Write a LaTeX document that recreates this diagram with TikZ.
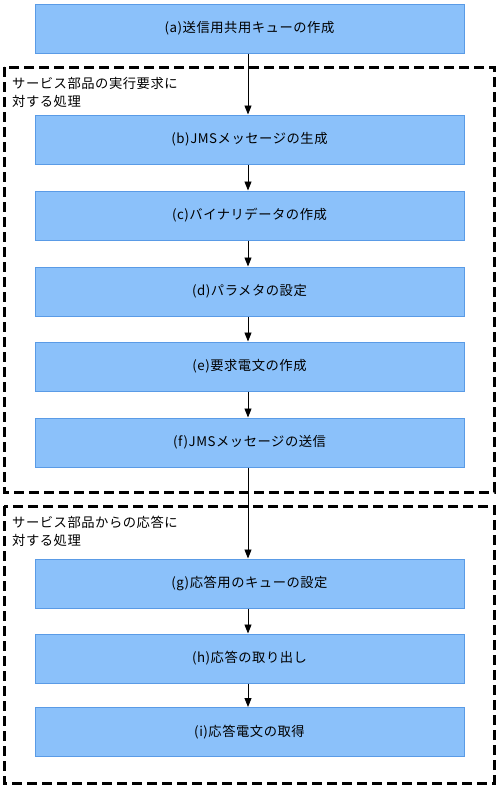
\documentclass[tikz,border=0pt]{standalone}
\usepackage{fontspec}
\setmainfont{Noto Sans CJK JP}[LetterSpace=4]
\usetikzlibrary{arrows.meta}
\begin{document}
\begin{tikzpicture}[x=1pt,y=-1pt,
  stepbox/.style={draw={rgb,255:red,90;green,155;blue,230}, line width=1pt, fill={rgb,255:red,139;green,193;blue,250}, minimum width=429pt, minimum height=49pt, inner sep=0pt, font=\fontsize{13.3}{15}\selectfont},
  grp/.style={draw=black, line width=3pt, dash pattern=on 10pt off 5pt},
  grplabel/.style={anchor=north west, align=left, inner sep=0pt, font=\fontsize{13.3}{18}\selectfont},
  flow/.style={-{Triangle[length=9pt,width=7pt]}, line width=0.9pt}]
\useasboundingbox (0,0) rectangle (500,787);
\draw[grp] (4,67) rectangle (494,492);
\draw[grp] (4,506) rectangle (494,783);
\node[grplabel] (l1) at (12,77) {サービス部品の実行要求に\\対する処理};
\node[grplabel] (l2) at (12,516) {サービス部品からの応答に\\対する処理};
\node[stepbox] (a) at (249.5,28.5) {(a)送信用共用キューの作成};
\node[stepbox] (b) at (249.5,139.5) {(b)JMSメッセージの生成};
\node[stepbox] (c) at (249.5,215.5) {(c)バイナリデータの作成};
\node[stepbox] (d) at (249.5,291.5) {(d)パラメタの設定};
\node[stepbox] (e) at (249.5,366.5) {(e)要求電文の作成};
\node[stepbox] (f) at (249.5,442.5) {(f)JMSメッセージの送信};
\node[stepbox] (g) at (249.5,583.5) {(g)応答用のキューの設定};
\node[stepbox] (h) at (249.5,658.5) {(h)応答の取り出し};
\node[stepbox] (i) at (249.5,732) {(i)応答電文の取得};
\foreach \u/\v in {a/b,b/c,c/d,d/e,e/f,f/g,g/h,h/i}
  \draw[flow] (\u.south -| 248,0) -- (\v.north -| 248,0);
\end{tikzpicture}
\end{document}
